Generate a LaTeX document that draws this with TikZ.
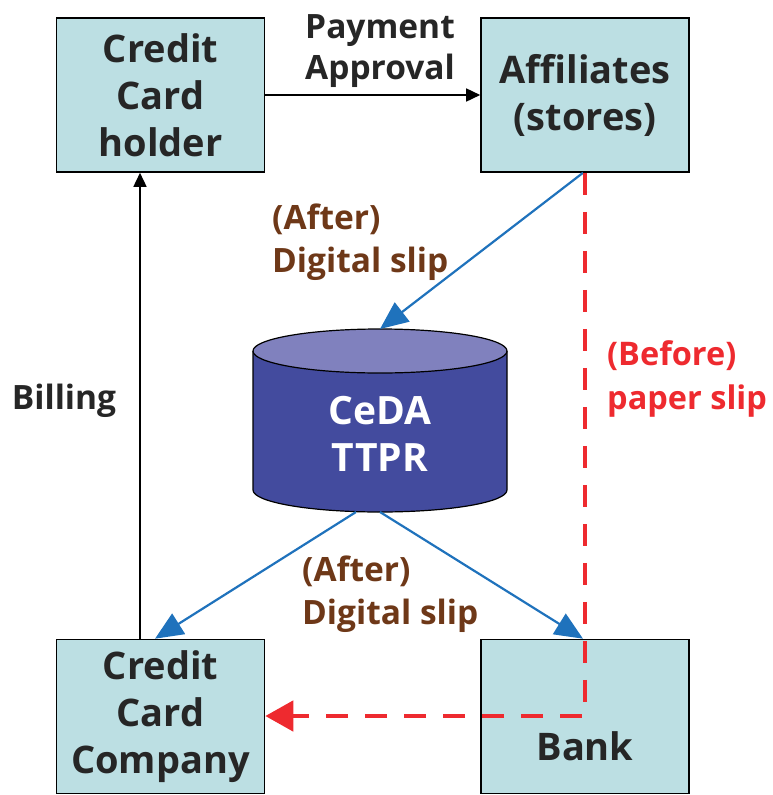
\documentclass[tikz,border=0pt]{standalone}
\usepackage{fontspec}
\setmainfont{Open Sans}
\usetikzlibrary{arrows.meta}
\definecolor{boxfill}{HTML}{BCDFE3}
\definecolor{cylside}{HTML}{434B9E}
\definecolor{cyltop}{HTML}{8081BE}
\definecolor{bluearr}{HTML}{1F72BC}
\definecolor{redarr}{HTML}{EE2A2F}
\definecolor{brownlbl}{HTML}{6E3818}
\tikzset{
  entity/.style={draw=black, line width=1.6pt, fill=boxfill, minimum width=208pt, minimum height=154pt, inner sep=0pt, align=center, font=\bfseries\fontsize{38}{47}\selectfont, text=black!85},
  lbl/.style={font=\bfseries\fontsize{33.5}{43}\selectfont, align=left, inner sep=0pt},
  blackarr/.style={draw=black, line width=1.6pt, -{Triangle[length=14pt,width=13pt]}},
  bluearrow/.style={draw=bluearr, line width=2.2pt, -{Triangle[length=28pt,width=24pt]}},
  redarrow/.style={draw=redarr, line width=4.8pt, dash pattern=on 22pt off 17pt, -{Triangle[length=28pt,width=30pt]}}
}
\begin{document}
\begin{tikzpicture}[x=1pt,y=-1pt]
\useasboundingbox (0,0) rectangle (772,795);
% boxes
\node[entity] (holder) at (160.5,95) {Credit\\Card\\holder};
\node[entity] (aff) at (585,95) {Affiliates\\(stores)};
\node[entity] (comp) at (160.5,716.5) {Credit\\Card\\Company};
\node[entity, text depth=0pt] (bank) at (585,716.5) {\\[-6pt]\\Bank};
% cylinder
\fill[cylside] (253,351) -- (253,490) arc[start angle=180,end angle=0,x radius=127,y radius=22] -- (507,351) -- cycle;
\draw[black, line width=1.2pt] (253,351) -- (253,490) arc[start angle=180,end angle=0,x radius=127,y radius=22] -- (507,351);
\draw[black, line width=1.2pt, fill=cyltop] (380,351) ellipse[x radius=127, y radius=22];
\node[font=\bfseries\fontsize{39}{47}\selectfont, text=white, align=center] (ceda) at (380,434) {CeDA\\TTPR};
\coordinate (cyltopc) at (380,329);
\coordinate (cylbotl) at (356,512);
\coordinate (cylbotr) at (380,512);
% connectors
\draw[blackarr] (holder.east) -- (aff.west);
\draw[blackarr] (comp.north -| 140,0) -- (holder.south -| 140,0);
\draw[bluearrow] (aff.south -| 583,0) -- (cyltopc);
\draw[bluearrow] (cylbotl) -- (comp.north -| 155,0);
\draw[bluearrow] (cylbotr) -- (bank.north -| 583,0);
\coordinate (redcorner) at (585,716);
\draw[redarrow] (aff.south -| 585,0) -- (redcorner) -- (comp.east |- redcorner);
% labels
\node[lbl, align=center, text=black!85, font=\bfseries\fontsize{33.5}{41}\selectfont] (pay) at (380,51) {Payment\\Approval};
\node[lbl, anchor=west, text=brownlbl] (after1) at (272,242) {(After)\\Digital slip};
\node[lbl, anchor=west, text=redarr, font=\bfseries\fontsize{32.5}{44}\selectfont] (before) at (607,379) {(Before)\\paper slip};
\node[lbl, anchor=west, text=brownlbl] (after2) at (302,594) {(After)\\Digital slip};
\node[lbl, text=black!85] (bill) at (64,401) {Billing};
\end{tikzpicture}
\end{document}
